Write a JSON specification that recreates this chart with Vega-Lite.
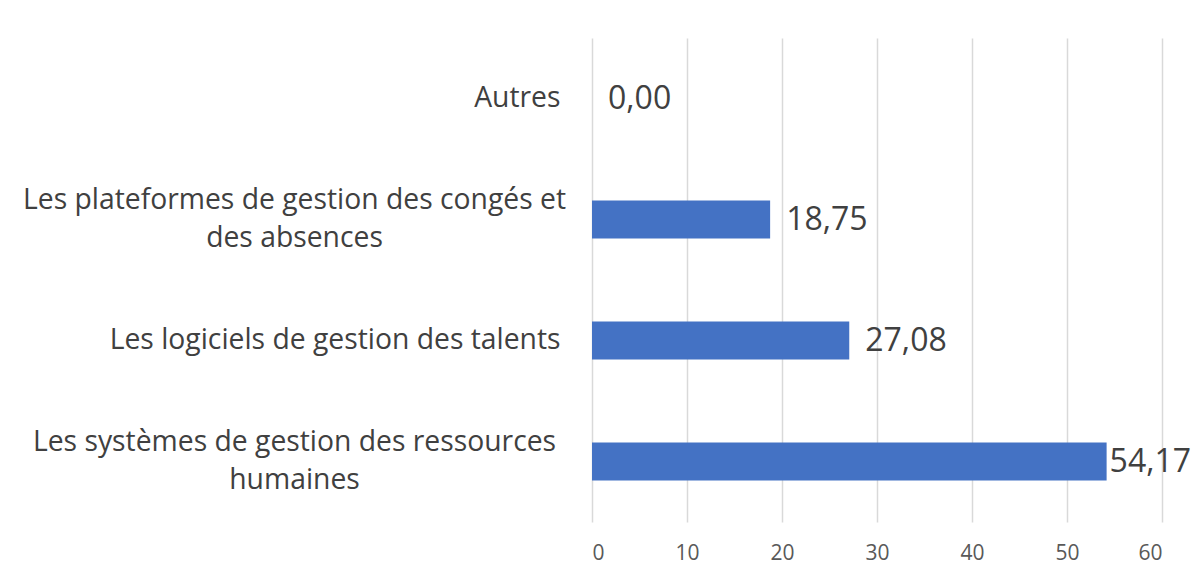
{
  "$schema": "https://vega.github.io/schema/vega-lite/v6.json",
  "width": 570,
  "height": 484,
  "autosize": {"type": "none"},
  "padding": {"left": 592, "top": 38, "right": 41, "bottom": 58},
  "background": "white",
  "config": {
    "view": {"stroke": null},
    "font": "Open Sans",
    "locale": {"number": {"decimal": ",", "thousands": " ", "grouping": [3], "currency": ["", " €"]}}
  },
  "data": {
    "values": [
      {"categorie": "Autres", "valeur": 0.0},
      {"categorie": "Les plateformes de gestion des congés et des absences", "valeur": 18.75},
      {"categorie": "Les logiciels de gestion des talents", "valeur": 27.08},
      {"categorie": "Les systèmes de gestion des ressources humaines", "valeur": 54.17}
    ]
  },
  "encoding": {
    "y": {
      "field": "categorie",
      "type": "nominal",
      "sort": null,
      "scale": {"paddingInner": 0.686, "paddingOuter": 0.343},
      "axis": {
        "title": null,
        "domain": false,
        "ticks": false,
        "grid": false,
        "labelFont": "Open Sans",
        "labelFontSize": 28.3,
        "labelColor": "#404040",
        "labelLimit": 700,
        "labelLineHeight": 38,
        "labelBaseline": "middle",
        "labelExpr": "datum.value == 'Les plateformes de gestion des congés et des absences' ? ['Les plateformes de gestion des congés et', 'des absences'] : (datum.value == 'Les systèmes de gestion des ressources humaines' ? ['Les systèmes de gestion des ressources', 'humaines'] : datum.value)",
        "labelAlign": {"condition": {"test": "indexof(datum.value, 'Les plateformes') == 0 || indexof(datum.value, 'Les systèmes') == 0", "value": "center"}, "value": "right"},
        "labelPadding": {"condition": {"test": "indexof(datum.value, 'Les plateformes') == 0 || indexof(datum.value, 'Les systèmes') == 0", "value": 298}, "value": 32},
        "labelOffset": {"condition": {"test": "indexof(datum.value, 'Les plateformes') == 0 || indexof(datum.value, 'Les systèmes') == 0", "value": -19}, "value": 0}
      }
    }
  },
  "layer": [
    {
      "mark": {"type": "bar", "color": "#4472C4"},
      "encoding": {
        "x": {
          "field": "valeur",
          "type": "quantitative",
          "scale": {"domain": [0, 60], "nice": false},
          "axis": {
            "title": null,
            "values": [0, 10, 20, 30, 40, 50, 60],
            "format": "d",
            "domain": false,
            "ticks": false,
            "grid": true,
            "gridColor": "#d9d9d9",
            "gridWidth": 1.5,
            "labelFont": "Open Sans",
            "labelFontSize": 21,
            "labelColor": "#595959",
            "labelPadding": 20
          }
        }
      }
    },
    {
      "transform": [{"filter": "datum.valeur < 50"}],
      "mark": {"type": "text", "align": "left", "baseline": "middle", "dx": 16, "fontSize": 32, "color": "#404040", "font": "Open Sans"},
      "encoding": {
        "x": {"field": "valeur", "type": "quantitative"},
        "text": {"field": "valeur", "type": "quantitative", "format": ".2f"}
      }
    },
    {
      "transform": [{"filter": "datum.valeur >= 50"}],
      "mark": {"type": "text", "align": "left", "baseline": "middle", "dx": 3, "fontSize": 32, "color": "#404040", "font": "Open Sans"},
      "encoding": {
        "x": {"field": "valeur", "type": "quantitative"},
        "text": {"field": "valeur", "type": "quantitative", "format": ".2f"}
      }
    }
  ]
}
